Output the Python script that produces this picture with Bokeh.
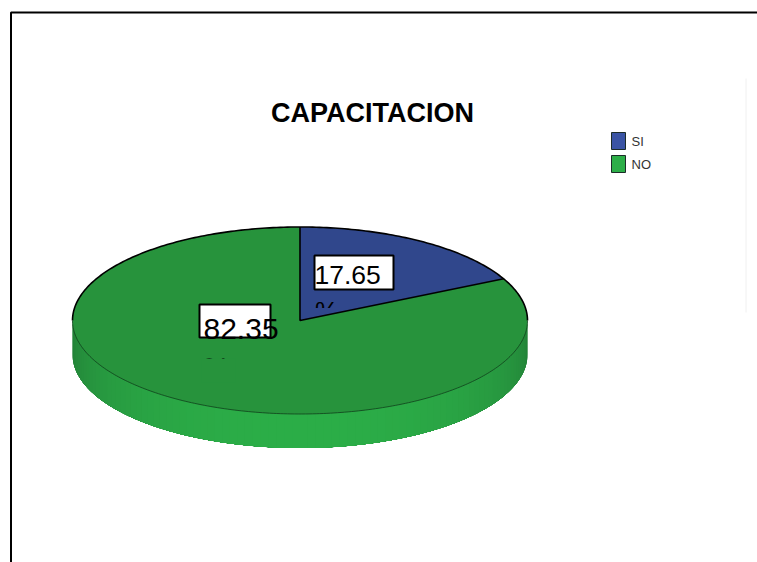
import numpy as np
from bokeh.core.properties import value
from bokeh.embed import file_html
from bokeh.models import Range1d
from bokeh.plotting import figure
from bokeh.resources import INLINE

TITLE = "CAPACITACION"
categories = ["SI", "NO"]
percentages = [17.65, 82.35]
top_colors = ["#30478c", "#27933c"]
legend_colors = ["#3a54a4", "#2cae48"]

W, H = 757, 562
CX, CY, RX, RY, DEPTH = 299.5, 320, 227.5, 93.5, 34


def rim(theta):
    """Point on the pie's top ellipse; theta is clockwise from twelve o'clock."""
    return CX + RX * np.sin(theta), CY - RY * np.cos(theta)


def shade(theta):
    """Colour of the pie's side wall, brightest at the front and darker to the edges."""
    t = abs(np.cos(theta)) ** 0.8
    dark, bright = np.array([0x22, 0x7d, 0x36]), np.array([0x2c, 0xae, 0x48])
    r, g, b = (dark + (bright - dark) * t).astype(int)
    return f"#{r:02x}{g:02x}{b:02x}"


p = figure(width=W, height=H, x_range=Range1d(0, W), y_range=Range1d(H, 0),
           x_axis_type=None, y_axis_type=None, toolbar_location=None,
           output_backend="svg", min_border=0, outline_line_color=None,
           background_fill_color="white", border_fill_color="white")
p.grid.visible = False

# Outer frame, running off the right and bottom of the page, and the faint rule
p.line([10.5, 10.5, W], [H, 12, 12], line_color="black", line_width=2)
p.line([745.5, 745.5], [78, 312], line_color="#f0f0f0", line_width=1)

p.text([372], [112], text=[TITLE], text_font=value("Liberation Sans"),
       text_font_style="bold", text_font_size="27px", text_color="black",
       text_align="center", text_baseline="middle")

# Legend
for i, (name, color) in enumerate(zip(categories, legend_colors)):
    y = 141 + i * 23
    p.quad(left=[611], right=[625], top=[y - 9], bottom=[y + 8],
           fill_color=color, line_color="#1c2c28", line_width=1)
    p.text([631], [y], text=[name], text_font=value("Liberation Sans"),
           text_font_size="13px", text_color="#333333", text_baseline="middle")

# Side wall, painted from the edges inwards so neighbouring strips overlap
steps = np.linspace(np.pi / 2, np.pi, 46)
for a, b in zip(steps[:-1], steps[1:]):
    arc = np.linspace(a, 2 * np.pi - a, 120)
    xs, ys = rim(arc)
    p.patch(np.r_[xs, xs[::-1]], np.r_[ys - 1, ys[::-1] + DEPTH],
            fill_color=shade((a + b) / 2), line_color=None)

# Top face: one wedge per category, angles taken from the percentages
fractions = np.cumsum([0] + percentages) / sum(percentages)
for i, color in enumerate(top_colors):
    arc = np.linspace(fractions[i], fractions[i + 1], 240) * 2 * np.pi
    xs, ys = rim(arc)
    p.patch(np.r_[CX, xs, CX], np.r_[CY, ys, CY], fill_color=color, line_color=None)

# Value boxes; the label's second line overflows the box and is cut short
boxes = [(314, 393, 255, 289), (199, 270, 304, 337)]
label_pos = [(314, 274.5, "26.5px"), (203, 328.5, "30px")]
unit_pos = [(314.5, 310, 307.5), (203, 367, 358)]
for (l, r, t, b), (x, y, size), (ux, uy, cut) in zip(boxes, label_pos, unit_pos):
    p.quad(left=[l], right=[r], top=[t], bottom=[b], fill_color="white",
           line_color="black", line_width=2)
    p.text([ux], [uy], text=["%"], text_font=value("Liberation Sans"), text_font_size=size,
           text_color="black", text_align="left", text_baseline="middle")

# Re-lay the slice colours below each cut line to trim the overflowing unit text
theta_edge = fractions[1] * 2 * np.pi
ex, ey = rim(theta_edge)
slope = (ey - CY) / (ex - CX)
for (ux, uy, cut) in unit_pos:
    xs = np.array([ux - 2, ux + 32])
    if ux > CX:
        edge = CY + slope * (xs - CX)
        p.patch(np.r_[xs, xs[::-1]], np.r_[[cut, cut], edge[::-1]],
                fill_color=top_colors[0], line_color=None)
        p.patch(np.r_[xs, xs[::-1]], np.r_[edge, [cut + 22, cut + 22]],
                fill_color=top_colors[1], line_color=None)
    else:
        p.quad(left=[xs[0]], right=[xs[1]], top=[cut], bottom=[cut + 24],
               fill_color=top_colors[1], line_color=None)

for (x, y, size), val in zip(label_pos, percentages):
    p.text([x], [y], text=[f"{val:.2f}"], text_font=value("Liberation Sans"),
           text_font_size=size, text_color="black", text_align="left", text_baseline="middle")

# Outlines on the top face
back = np.linspace(-np.pi / 2, np.pi / 2, 200)
front = np.linspace(np.pi / 2, 3 * np.pi / 2, 200)
p.line(*rim(back), line_color="black", line_width=1.6)
p.line(*rim(front), line_color="#10401c", line_width=0.8)
p.line([CX, CX, ex], [CY - RY, CY, ey], line_color="black", line_width=1.6)

open("out.html", "w").write(file_html(p, INLINE))
